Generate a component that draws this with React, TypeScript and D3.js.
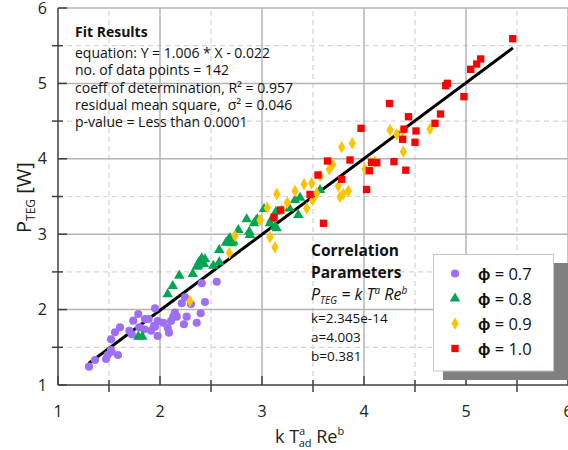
import React from "react";
import * as d3 from "d3";

const phi07: [number, number][] = [
  [1.304,1.243],[1.363,1.332],[1.471,1.345],[1.487,1.398],[1.52,1.464],[1.526,1.442],[1.588,1.398],
  [1.52,1.606],[1.559,1.699],[1.608,1.765],[1.699,1.72],[1.738,1.853],[1.723,1.672],[1.787,1.942],
  [1.797,1.765],[1.846,1.739],[1.853,1.875],[1.889,1.875],[1.912,1.72],[1.941,1.786],[1.951,2.017],
  [1.951,1.773],[1.977,1.849],[1.977,1.65],[2.032,1.826],[2.075,1.76],[2.088,1.694],[2.108,1.849],
  [2.13,1.906],[2.147,1.959],[2.164,1.906],[2.213,2.084],[2.245,2.163],[2.262,1.906],[2.235,1.805],
  [2.304,2.074],[2.36,1.826],[2.399,1.951],[2.441,2.101],[2.409,2.349],[2.556,2.37],
];
const phi08: [number, number][] = [
  [1.787,1.641],[1.826,1.641],[2.075,2.203],[2.125,2.313],[2.189,2.45],[2.321,2.472],[2.375,2.582],
  [2.385,2.635],[2.409,2.68],[2.441,2.667],[2.431,2.605],[2.36,2.569],[2.523,2.582],[2.581,2.627],
  [2.581,2.79],[2.647,2.887],[2.67,2.923],[2.686,2.946],[2.703,2.879],[2.719,2.901],[2.768,3.056],
  [2.85,3.198],[2.875,3.033],[2.882,2.989],[2.922,3.145],[2.941,3.179],[2.954,3.198],[3.02,3.334],
  [3.078,3.145],[3.095,3.198],[3.127,3.099],[3.137,3.298],[3.144,3.078],[3.268,3.343],[3.324,3.454],
  [3.373,3.484],[3.356,3.255],[3.569,3.586],
];
const phi09: [number, number][] = [
  [2.294,2.114],[2.68,2.75],[2.735,2.976],[2.98,3.188],[3.052,3.351],[3.078,2.959],[3.127,2.826],
  [3.144,3.533],[3.193,3.321],[3.248,3.418],[3.324,3.573],[3.412,3.662],[3.438,3.343],[3.487,3.675],
  [3.497,3.454],[3.536,3.542],[3.66,3.861],[3.693,3.927],[3.748,3.639],[3.765,3.497],[3.797,3.533],
  [3.846,3.573],[3.781,4.153],[3.885,4.206],[4.255,4.382],[4.321,4.322],[4.377,4.369],[4.647,4.395],
  [4.385,4.094],[4.01,3.861],[4.066,3.948],[4.108,3.962],[3.569,3.772],
];
const phi10: [number, number][] = [
  [3.118,3.224],[3.183,3.321],[3.471,3.527],[3.549,3.785],[3.642,3.971],[3.781,3.728],[3.603,3.145],
  [3.863,3.984],[4.25,4.733],[4.436,4.558],[4.75,4.594],[3.971,4.404],[4.392,4.393],[4.51,4.369],
  [4.696,4.471],[4.379,4.259],[4.5,4.219],[4.294,3.962],[4.075,3.954],[4.125,3.948],[4.052,3.842],
  [4.41,3.849],[4.025,3.593],[5.458,5.593],[5.144,5.324],[5.105,5.257],[5.046,5.187],[4.817,5.001],
  [4.801,4.969],[4.98,4.824],
];
const fitLine: [number, number][] = [[1.3, 1.286], [5.46, 5.471]];
const xTicks = [1, 2, 3, 4, 5, 6];
const yTicks = [1, 2, 3, 4, 5, 6];
const halfTicks = [1.5, 2.5, 3.5, 4.5, 5.5];
const fitLines = [
  "equation: Y = 1.006 * X - 0.022",
  "no. of data points = 142",
  "coeff of determination, R\u00B2 = 0.957",
  "residual mean square,  \u03C3\u00B2 = 0.046",
  "p-value = Less than 0.0001",
];
const corrLines = ["k=2.345e-14", "a=4.003", "b=0.381"];
const legendLabels = ["0.7", "0.8", "0.9", "1.0"];

const COLORS = ["#9d6ff2", "#00a651", "#ffc400", "#ff0000"];
const SHAPES = [d3.symbolCircle, d3.symbolTriangle, d3.symbolDiamond, d3.symbolSquare];
const SIZES = [52, 48, 46, 54];
const FONT = "'Open Sans', sans-serif";

export default function App() {
  const x = d3.scaleLinear().domain([1, 6]).range([58, 568]);
  const y = d3.scaleLinear().domain([1, 6]).range([385, 8]);
  const series = [phi07, phi08, phi09, phi10];
  const line = d3.line<[number, number]>().x(d => x(d[0])).y(d => y(d[1]));
  const sym = (i: number) => d3.symbol().type(SHAPES[i]).size(SIZES[i])() as string;

  return (
    <svg width={568} height={450} style={{ position: "absolute", left: 0, top: 0, background: "#fff" }} fontFamily={FONT}>
      {/* grid */}
      {halfTicks.map(v => (
        <g key={"h" + v}>
          <line x1={x(v)} x2={x(v)} y1={y(1)} y2={y(6)} stroke="#d4d4d4" strokeWidth={1.2} strokeDasharray="5,4" />
          <line x1={x(1)} x2={x(6)} y1={y(v)} y2={y(v)} stroke="#d4d4d4" strokeWidth={1.2} strokeDasharray="5,4" />
        </g>
      ))}
      {xTicks.slice(1).map(v => (
        <line key={"gx" + v} x1={x(v)} x2={x(v)} y1={y(1)} y2={y(6)} stroke="#b4b4b4" strokeWidth={1.5} />
      ))}
      {yTicks.slice(1).map(v => (
        <line key={"gy" + v} x1={x(1)} x2={x(6)} y1={y(v)} y2={y(v)} stroke="#b4b4b4" strokeWidth={1.5} />
      ))}
      {/* axes */}
      <line x1={x(1)} x2={x(1)} y1={y(1)} y2={y(6)} stroke="#404040" strokeWidth={1.5} />
      <line x1={x(1)} x2={x(6)} y1={y(1)} y2={y(1)} stroke="#404040" strokeWidth={1.5} />
      {xTicks.map(v => (
        <line key={"tx" + v} x1={x(v)} x2={x(v)} y1={y(1)} y2={y(1) - 9} stroke="#404040" strokeWidth={1.5} />
      ))}
      {yTicks.map(v => (
        <line key={"ty" + v} x1={x(1)} x2={x(1) + 9} y1={y(v)} y2={y(v)} stroke="#404040" strokeWidth={1.5} />
      ))}
      {halfTicks.map(v => (
        <g key={"mt" + v}>
          <line x1={x(v)} x2={x(v)} y1={y(1) - 5} y2={y(1) + 7} stroke="#404040" strokeWidth={1.5} />
          <line x1={x(1) - 6} x2={x(1) + 5} y1={y(v)} y2={y(v)} stroke="#404040" strokeWidth={1.5} />
        </g>
      ))}
      {xTicks.map(v => (
        <text key={"lx" + v} x={x(v)} y={417} textAnchor="middle" fontSize={16} fill="#222">{v}</text>
      ))}
      {yTicks.map(v => (
        <text key={"ly" + v} x={47} y={Math.max(y(v) + 5.5, 14)} textAnchor="end" fontSize={16} fill="#222">{v}</text>
      ))}
      {/* axis titles */}
      <text x={275} y={443} fontSize={18} fill="#222">
        <tspan>k T</tspan>
        <tspan dy={-8} fontSize={11}>a</tspan>
        <tspan dx={-6.5} dy={12} fontSize={11}>ad</tspan>
        <tspan dy={-4}> Re</tspan>
        <tspan dy={-8} fontSize={11}>b</tspan>
      </text>
      <text transform="translate(31,233) rotate(-90)" fontSize={20} fill="#222">
        <tspan>P</tspan>
        <tspan dy={4} fontSize={12}>TEG</tspan>
        <tspan dy={-4}> [W]</tspan>
      </text>
      {/* fit line */}
      <path d={line(fitLine) as string} stroke="#000" strokeWidth={3} fill="none" />
      {/* points */}
      {series.map((s, i) => (
        <g key={"s" + i}>
          {s.map((d, j) => (
            <path key={j} d={sym(i)} transform={`translate(${x(d[0])},${y(d[1])})`} fill={COLORS[i]} />
          ))}
        </g>
      ))}
      {/* fit results */}
      <text x={75} y={37} fontSize={14} fontWeight="bold" fill="#111">Fit Results</text>
      {fitLines.map((t, i) => (
        <text key={"f" + i} x={75} y={58 + i * 17.3} fontSize={14} fill="#111" style={{ whiteSpace: "pre" }}>{t}</text>
      ))}
      {/* correlation */}
      <text x={311} y={256} fontSize={15.5} fontWeight="bold" fill="#111">Correlation</text>
      <text x={311} y={278} fontSize={15.5} fontWeight="bold" fill="#111">Parameters</text>
      <text x={311} y={300} fontSize={16} fontStyle="italic" fill="#111">
        <tspan>P</tspan>
        <tspan dy={4} fontSize={10}>TEG</tspan>
        <tspan dy={-4}> = k T</tspan>
        <tspan dy={-6} fontSize={10}>a</tspan>
        <tspan dy={6}> Re</tspan>
        <tspan dy={-6} fontSize={10}>b</tspan>
      </text>
      {corrLines.map((t, i) => (
        <text key={"c" + i} x={311} y={323 + i * 19} fontSize={13.5} fill="#111">{t}</text>
      ))}
      {/* legend */}
      <rect x={443} y={263} width={125} height={117} fill="#808080" />
      <rect x={433.5} y={254.5} width={120} height={116.5} fill="#fff" stroke="#c4c4c4" strokeWidth={1} />
      {legendLabels.map((t, i) => {
        const cy = 273.5 + i * 25;
        return (
          <g key={"lg" + i}>
            <path d={sym(i)} transform={`translate(455,${cy})`} fill={COLORS[i]} />
            <text x={478} y={cy + 6} fontSize={16.5} fill="#111">
              <tspan fontWeight="bold">{"\u03D5"}</tspan>
              <tspan>{" = " + t}</tspan>
            </text>
          </g>
        );
      })}
    </svg>
  );
}
